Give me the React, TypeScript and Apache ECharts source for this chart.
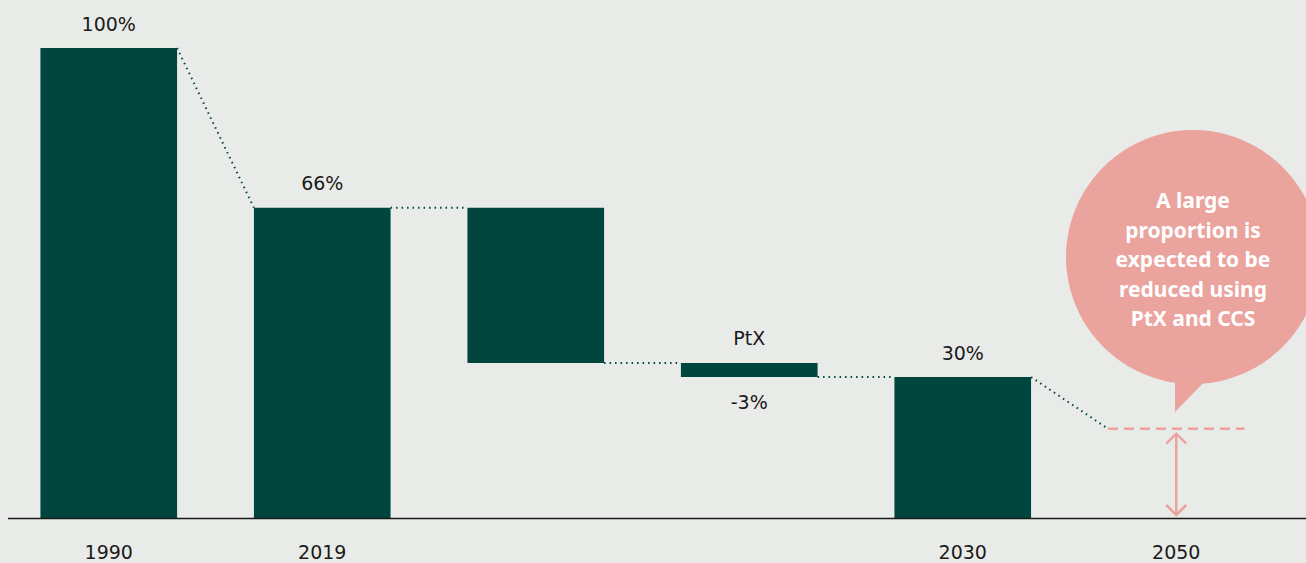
import React, { useEffect, useRef } from 'react';
import * as echarts from 'echarts';

const categories = ['1990', '2019', 'Reduction', 'PtX', '2030', '2050'];
const tickLabels = ['1990', '2019', '', '', '2030', '2050'];
const baseValues = [0, 0, 33, 30, 0, null];
const barValues = [100, 66, 33, 3, 30, null];
const topLabels = ['100%', '66%', '', 'PtX', '30%', ''];
const bottomLabels = ['', '', '', '-3%', '', ''];
const target2050 = [[5, 19]];
// [fromIndex, fromValue, toIndex, toValue]
const connectors = [
  [0, 100, 1, 66],
  [1, 66, 2, 66],
  [2, 33, 3, 33],
  [3, 30, 4, 30],
  [4, 30, 5, 19],
];
const bubbleLines = ['A large', 'proportion is', 'expected to be', 'reduced using', 'PtX and CCS'];

const GREEN = '#00463e';
const PINK = '#eba39e';
const BG = '#e9ebe8';
const FONT = '"DejaVu Sans", sans-serif';
const BUBBLE_FONT = '"Noto Sans", sans-serif';
const BAR_RATIO = 0.64;

export default function App() {
  const ref = useRef<HTMLDivElement>(null);
  useEffect(() => {
    if (!ref.current) return;
    const chart = echarts.init(ref.current, undefined, { renderer: 'svg' });
    chart.setOption({
      animation: false,
      backgroundColor: BG,
      grid: { left: 2, right: 23, top: 48, bottom: 45 },
      xAxis: {
        type: 'category',
        data: categories,
        axisLine: { show: false },
        axisTick: { show: false },
        axisLabel: {
          margin: 25,
          fontSize: 19,
          lineHeight: 18,
          color: '#1a1a1a',
          fontFamily: FONT,
          formatter: (_v: string, i: number) => tickLabels[i],
        },
      },
      yAxis: { type: 'value', min: 0, max: 100, show: false },
      graphic: [
        {
          type: 'line',
          shape: { x1: 8, y1: 518.5, x2: 1306, y2: 518.5 },
          style: { stroke: '#1a1a1a', lineWidth: 1.5 },
          z: 10,
        },
        {
          type: 'circle',
          shape: { cx: 1193, cy: 257, r: 127 },
          style: { fill: PINK },
          z: 20,
        },
        {
          type: 'polygon',
          shape: { points: [[1175, 370], [1175, 412], [1208, 378]] },
          style: { fill: PINK },
          z: 20,
        },
        {
          type: 'text',
          x: 1193,
          y: 259,
          z: 21,
          style: {
            text: bubbleLines.join('\n'),
            fill: '#ffffff',
            fontSize: 21,
            fontWeight: 'bold',
            fontFamily: BUBBLE_FONT,
            lineHeight: 29.5,
            align: 'center',
            verticalAlign: 'middle',
          },
        },
      ],
      series: [
        {
          type: 'bar',
          stack: 'wf',
          data: baseValues,
          barWidth: '64%',
          itemStyle: { color: 'transparent' },
          label: {
            show: true,
            position: 'insideTop',
            distance: 15,
            fontSize: 19,
            color: '#1a1a1a',
            fontFamily: FONT,
            formatter: (p: any) => bottomLabels[p.dataIndex],
          },
          silent: true,
        },
        {
          type: 'bar',
          stack: 'wf',
          data: barValues,
          barWidth: '64%',
          itemStyle: { color: GREEN },
          label: {
            show: true,
            position: 'top',
            distance: 15,
            fontSize: 19,
            color: '#1a1a1a',
            fontFamily: FONT,
            formatter: (p: any) => topLabels[p.dataIndex],
          },
        },
        {
          type: 'custom',
          data: connectors,
          encode: { x: 0, y: 1 },
          z: 5,
          renderItem: (_params: any, api: any) => {
            const half = (api.size([1, 0])[0] * BAR_RATIO) / 2;
            const a = api.coord([api.value(0), api.value(1)]);
            const b = api.coord([api.value(2), api.value(3)]);
            return {
              type: 'line',
              shape: { x1: a[0] + half, y1: a[1], x2: b[0] - half, y2: b[1] },
              style: { stroke: GREEN, lineWidth: 2, lineDash: [1.5, 4], lineCap: 'butt' },
            };
          },
        },
        {
          type: 'custom',
          data: target2050,
          encode: { x: 0, y: 1 },
          z: 6,
          renderItem: (_params: any, api: any) => {
            const half = (api.size([1, 0])[0] * BAR_RATIO) / 2;
            const t = api.coord([api.value(0), api.value(1)]);
            const base = api.coord([api.value(0), 0]);
            const x = t[0];
            const top = t[1] + 5;
            const bot = base[1] - 3;
            const w = 10;
            const st = { stroke: PINK, lineWidth: 2.5, fill: 'none' };
            return {
              type: 'group',
              children: [
                {
                  type: 'line',
                  shape: { x1: x - half, y1: t[1], x2: x + half, y2: t[1] },
                  style: { stroke: PINK, lineWidth: 2.5, lineDash: [10, 6] },
                },
                { type: 'line', shape: { x1: x, y1: top, x2: x, y2: bot }, style: st },
                { type: 'polyline', shape: { points: [[x - w, top + w], [x, top], [x + w, top + w]] }, style: st },
                { type: 'polyline', shape: { points: [[x - w, bot - w], [x, bot], [x + w, bot - w]] }, style: st },
              ],
            };
          },
        },
      ],
    });
    return () => chart.dispose();
  }, []);
  return (
    <div
      ref={ref}
      style={{ position: 'absolute', left: 0, top: 0, width: 1306, height: 563 }}
    />
  );
}
